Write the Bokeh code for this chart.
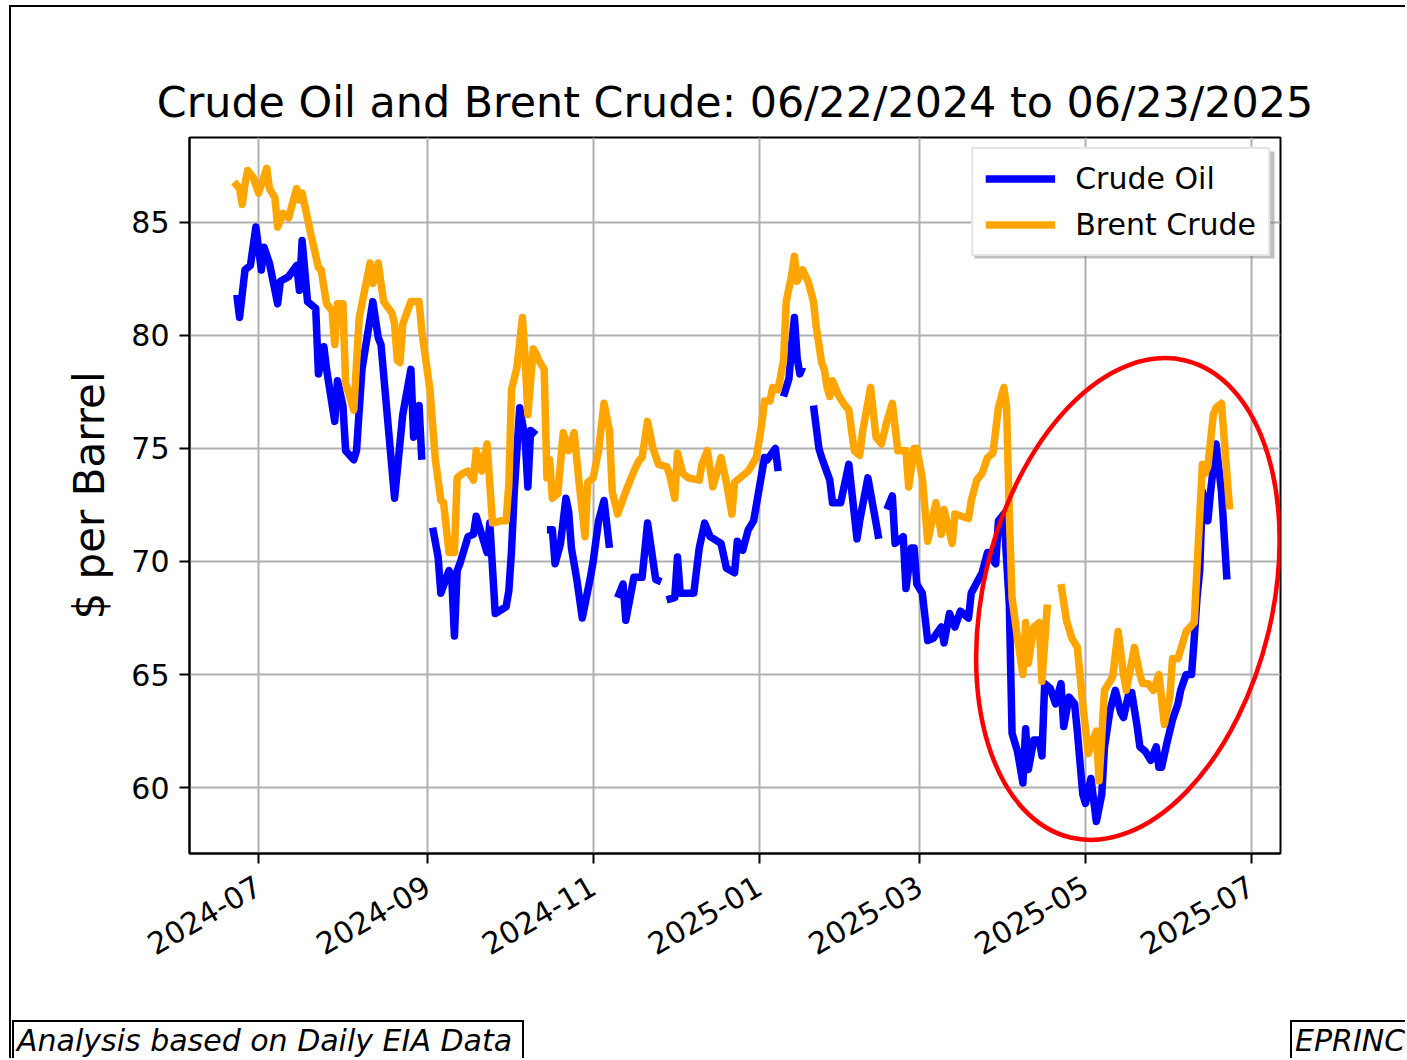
import math
import pandas as pd
from bokeh.plotting import figure
from bokeh.layouts import column
from bokeh.models import FixedTicker, DatetimeTickFormatter, Range1d, Div, BoxAnnotation
from bokeh.embed import file_html
from bokeh.resources import INLINE

NaN = float("nan")

crude_dates = [
    "2024-06-23", "2024-06-24", "2024-06-26", "2024-06-28", "2024-06-30", "2024-07-02", "2024-07-03", "2024-07-05",
    "2024-07-08", "2024-07-09", "2024-07-12", "2024-07-15", "2024-07-16", "2024-07-17", "2024-07-19", "2024-07-22",
    "2024-07-23", "2024-07-25", "2024-07-26", "2024-07-29", "2024-07-30", "2024-08-01", "2024-08-02", "2024-08-05",
    "2024-08-06", "2024-08-08", "2024-08-12", "2024-08-14", "2024-08-15", "2024-08-20", "2024-08-23", "2024-08-26",
    "2024-08-27", "2024-08-29", "2024-08-30", "2024-09-01", "2024-09-03", "2024-09-05", "2024-09-06", "2024-09-09",
    "2024-09-10", "2024-09-11", "2024-09-12", "2024-09-13", "2024-09-16", "2024-09-18", "2024-09-19", "2024-09-23",
    "2024-09-24", "2024-09-26", "2024-09-30", "2024-10-01", "2024-10-02", "2024-10-03", "2024-10-05", "2024-10-07",
    "2024-10-08", "2024-10-09", "2024-10-11", "2024-10-13", "2024-10-15", "2024-10-17", "2024-10-18", "2024-10-20",
    "2024-10-22", "2024-10-23", "2024-10-24", "2024-10-26", "2024-10-28", "2024-10-31", "2024-11-01", "2024-11-03",
    "2024-11-05", "2024-11-07", "2024-11-08", "2024-11-10", "2024-11-12", "2024-11-13", "2024-11-16", "2024-11-19",
    "2024-11-21", "2024-11-24", "2024-11-26", "2024-11-27", "2024-11-28", "2024-12-01", "2024-12-02", "2024-12-03",
    "2024-12-08", "2024-12-10", "2024-12-12", "2024-12-14", "2024-12-18", "2024-12-20", "2024-12-23", "2024-12-24",
    "2024-12-26", "2024-12-28", "2024-12-30", "2025-01-03", "2025-01-04", "2025-01-07", "2025-01-08", "2025-01-09",
    "2025-01-10", "2025-01-12", "2025-01-13", "2025-01-14", "2025-01-15", "2025-01-16", "2025-01-17", "2025-01-19",
    "2025-01-21", "2025-01-23", "2025-01-24", "2025-01-27", "2025-01-28", "2025-01-31", "2025-02-03", "2025-02-06",
    "2025-02-07", "2025-02-10", "2025-02-13", "2025-02-14", "2025-02-16", "2025-02-17", "2025-02-19", "2025-02-20",
    "2025-02-23", "2025-02-24", "2025-02-26", "2025-02-27", "2025-02-28", "2025-03-02", "2025-03-04", "2025-03-06",
    "2025-03-09", "2025-03-10", "2025-03-12", "2025-03-14", "2025-03-16", "2025-03-19", "2025-03-20", "2025-03-24",
    "2025-03-26", "2025-03-29", "2025-03-30", "2025-04-01", "2025-04-03", "2025-04-04", "2025-04-06", "2025-04-08",
    "2025-04-09", "2025-04-10", "2025-04-12", "2025-04-14", "2025-04-15", "2025-04-16", "2025-04-18", "2025-04-20",
    "2025-04-22", "2025-04-23", "2025-04-25", "2025-04-27", "2025-04-28", "2025-04-30", "2025-05-01", "2025-05-03",
    "2025-05-05", "2025-05-07", "2025-05-08", "2025-05-10", "2025-05-12", "2025-05-14", "2025-05-15", "2025-05-17",
    "2025-05-18", "2025-05-20", "2025-05-21", "2025-05-23", "2025-05-25", "2025-05-27", "2025-05-28", "2025-05-29",
    "2025-05-31", "2025-06-02", "2025-06-04", "2025-06-05", "2025-06-07", "2025-06-09", "2025-06-10", "2025-06-11",
    "2025-06-12", "2025-06-13", "2025-06-15", "2025-06-16", "2025-06-18", "2025-06-20", "2025-06-22",
]
crude_values = [
    81.8, 80.8, 82.9, 83.1, 84.8, 82.9, 83.9, 83.2,
    81.4, 82.4, 82.6, 83.1, 82.0, 84.2, 81.5, 81.2,
    78.3, 79.5, 78.5, 76.2, 78.0, 76.9, 74.9, 74.5,
    74.9, 78.5, 81.5, 79.9, 79.6, 72.8, 76.5, 78.5,
    75.5, 76.9, 74.5, NaN, 71.5, 70.2, 68.6, 69.6,
    69.3, 66.7, 69.6, 69.9, 71.1, 71.2, 72.0, 70.4,
    71.7, 67.7, 68.0, 68.7, 70.5, 73.1, 76.8, 75.4,
    73.3, 75.8, 75.6, NaN, 71.4, 71.4, 69.9, 70.8,
    72.8, 72.2, 70.6, 69.2, 67.5, 69.3, 70.0, 71.8,
    72.7, 70.6, NaN, 68.4, 69.0, 67.4, 69.3, 69.3,
    71.7, 69.2, 69.1, NaN, 68.3, 68.4, 70.2, 68.6,
    68.6, 70.6, 71.7, 71.1, 70.8, 69.7, 69.5, 70.9,
    70.5, 71.4, 71.8, 74.6, 74.5, 75.0, 74.0, NaN,
    77.3, 78.1, 79.6, 80.8, 79.0, 78.3, 78.6, NaN,
    76.9, 75.0, 74.6, 73.6, 72.6, 72.6, 74.3, 71.0,
    71.8, 73.7, 71.7, 71.0, NaN, 72.3, 72.9, 70.8,
    71.1, 68.8, 70.6, 70.6, 69.0, 68.6, 66.5, 66.6,
    67.1, 66.4, 67.7, 67.1, 67.8, 67.5, 68.6, 69.5,
    70.4, 69.9, 71.8, 72.1, 68.1, 62.4, 61.6, 60.2,
    62.6, 60.8, 62.1, 62.1, 61.4, 64.6, 64.4, 63.7,
    64.6, 62.7, 64.0, 63.7, 62.5, 59.7, 59.3, 60.4,
    58.5, 59.7, 61.8, 63.4, 64.3, 63.3, 63.1, 64.2,
    64.2, 62.7, 61.8, 61.6, 61.2, 61.8, 60.9, 60.9,
    62.0, 63.0, 63.7, 64.3, 65.0, 65.0, 66.6, 68.4,
    69.6, 73.1, 71.8, 73.1, 75.2, 73.1, 69.2,
]

brent_dates = [
    "2024-06-22", "2024-06-24", "2024-06-25", "2024-06-26", "2024-06-27", "2024-06-29", "2024-07-01", "2024-07-04",
    "2024-07-05", "2024-07-07", "2024-07-08", "2024-07-10", "2024-07-12", "2024-07-15", "2024-07-16", "2024-07-17",
    "2024-07-20", "2024-07-23", "2024-07-24", "2024-07-26", "2024-07-28", "2024-07-29", "2024-07-30", "2024-08-01",
    "2024-08-02", "2024-08-05", "2024-08-07", "2024-08-09", "2024-08-11", "2024-08-12", "2024-08-14", "2024-08-15",
    "2024-08-16", "2024-08-19", "2024-08-20", "2024-08-21", "2024-08-22", "2024-08-23", "2024-08-26", "2024-08-29",
    "2024-08-30", "2024-09-02", "2024-09-04", "2024-09-06", "2024-09-07", "2024-09-09", "2024-09-11", "2024-09-12",
    "2024-09-14", "2024-09-16", "2024-09-18", "2024-09-19", "2024-09-21", "2024-09-23", "2024-09-25", "2024-09-28",
    "2024-09-30", "2024-10-01", "2024-10-02", "2024-10-04", "2024-10-06", "2024-10-07", "2024-10-08", "2024-10-10",
    "2024-10-11", "2024-10-12", "2024-10-14", "2024-10-15", "2024-10-16", "2024-10-17", "2024-10-19", "2024-10-21",
    "2024-10-23", "2024-10-25", "2024-10-27", "2024-10-29", "2024-10-30", "2024-11-01", "2024-11-03", "2024-11-05",
    "2024-11-07", "2024-11-08", "2024-11-10", "2024-11-13", "2024-11-16", "2024-11-18", "2024-11-19", "2024-11-21",
    "2024-11-23", "2024-11-25", "2024-11-28", "2024-11-29", "2024-12-01", "2024-12-02", "2024-12-04", "2024-12-06",
    "2024-12-10", "2024-12-11", "2024-12-13", "2024-12-15", "2024-12-16", "2024-12-18", "2024-12-20", "2024-12-22",
    "2024-12-23", "2024-12-25", "2024-12-28", "2024-12-31", "2025-01-02", "2025-01-03", "2025-01-05", "2025-01-06",
    "2025-01-08", "2025-01-10", "2025-01-11", "2025-01-13", "2025-01-14", "2025-01-15", "2025-01-17", "2025-01-19",
    "2025-01-21", "2025-01-22", "2025-01-24", "2025-01-25", "2025-01-26", "2025-01-27", "2025-01-28", "2025-01-30",
    "2025-02-01", "2025-02-03", "2025-02-05", "2025-02-07", "2025-02-08", "2025-02-11", "2025-02-13", "2025-02-15",
    "2025-02-17", "2025-02-19", "2025-02-21", "2025-02-24", "2025-02-25", "2025-02-27", "2025-02-28", "2025-03-02",
    "2025-03-04", "2025-03-07", "2025-03-09", "2025-03-10", "2025-03-13", "2025-03-14", "2025-03-19", "2025-03-20",
    "2025-03-22", "2025-03-24", "2025-03-26", "2025-03-28", "2025-03-30", "2025-04-01", "2025-04-02", "2025-04-03",
    "2025-04-04", "2025-04-06", "2025-04-08", "2025-04-09", "2025-04-10", "2025-04-12", "2025-04-14", "2025-04-15",
    "2025-04-17", "2025-04-19", "2025-04-22", "2025-04-24", "2025-04-26", "2025-04-28", "2025-04-30", "2025-05-02",
    "2025-05-05", "2025-05-06", "2025-05-08", "2025-05-11", "2025-05-13", "2025-05-15", "2025-05-16", "2025-05-19",
    "2025-05-21", "2025-05-22", "2025-05-24", "2025-05-26", "2025-05-28", "2025-05-30", "2025-06-01", "2025-06-02",
    "2025-06-04", "2025-06-06", "2025-06-07", "2025-06-10", "2025-06-11", "2025-06-13", "2025-06-14", "2025-06-15",
    "2025-06-17", "2025-06-18", "2025-06-20", "2025-06-23",
]
brent_values = [
    86.8, 86.5, 85.8, 86.7, 87.3, 87.0, 86.3, 87.4,
    86.5, 86.1, 84.8, 85.4, 85.2, 86.5, 86.0, 86.3,
    84.6, 83.0, 82.9, 81.4, 81.1, 79.6, 81.4, 81.4,
    77.9, 76.7, 80.8, 82.0, 83.2, 82.3, 83.2, 82.3,
    81.5, 81.0, 80.5, 78.9, 78.8, 80.5, 81.5, 81.5,
    80.2, 77.6, 74.5, 72.7, 72.6, 70.4, 70.4, 73.7,
    73.9, 74.0, 73.6, 74.9, 74.0, 75.2, 71.7, 71.8,
    71.8, 73.4, 77.6, 78.6, 80.8, 79.0, 76.5, 79.4,
    79.2, 78.9, 78.5, 73.7, 74.5, 72.8, 73.0, 75.7,
    74.9, 75.7, 73.3, 71.1, 73.5, 73.7, 74.9, 77.0,
    75.8, 73.1, 72.1, 73.1, 74.0, 74.5, 74.6, 76.2,
    75.0, 74.3, 74.2, 73.9, 72.8, 74.8, 73.9, 73.7,
    73.6, 74.3, 74.9, 73.3, 73.7, 74.6, 73.5, 72.1,
    73.5, 73.7, 74.0, 74.6, 76.1, 77.1, 77.1, 77.7,
    77.6, 78.9, 81.5, 82.7, 83.5, 82.4, 82.9, 82.4,
    81.5, 80.4, 78.8, 78.5, 77.7, 77.3, 78.0, 77.4,
    77.0, 76.7, 74.9, 74.7, 75.7, 77.7, 75.5, 75.2,
    76.2, 77.0, 74.9, 74.9, 73.3, 75.0, 75.0, 73.7,
    70.9, 72.6, 71.2, 72.3, 70.8, 72.1, 71.9, 72.7,
    73.6, 73.9, 74.6, 74.8, 76.8, 77.7, 76.8, 72.1,
    68.4, 66.6, 65.0, 67.3, 65.5, 67.1, 67.3, 64.7,
    68.1, NaN, 69.0, 67.4, 66.6, 66.2, 63.7, 61.5,
    62.5, 60.3, 64.3, 64.9, 66.9, 65.0, 64.3, 66.2,
    65.0, 64.6, 64.6, 64.3, 65.0, 62.8, 64.0, 65.7,
    65.7, 66.5, 66.9, 67.3, 69.7, 74.3, 73.9, 74.2,
    76.5, 76.8, 77.0, 72.3,
]

x_tick_labels = ["2024-07", "2024-09", "2024-11", "2025-01", "2025-03", "2025-05", "2025-07"]
y_ticks = [60, 65, 70, 75, 80, 85]
footer_left = "Analysis based on Daily EIA Data"
footer_right = "EPRINC"

FONT = "DejaVu Sans"

crude_x = pd.to_datetime(crude_dates)
brent_x = pd.to_datetime(brent_dates)

origin = pd.Timestamp("2024-07-01")
x_start = origin - pd.Timedelta(days=25.4)
x_end = origin + pd.Timedelta(days=375.7)

W = 1394
p = figure(
    width=W, height=1011,
    x_axis_type="datetime",
    x_range=Range1d(x_start, x_end),
    y_range=Range1d(57.08, 88.76),
    output_backend="svg", toolbar_location=None,
    min_border_left=178, min_border_right=125, min_border_top=130, min_border_bottom=165,
)
p.background_fill_color = "white"
p.border_fill_color = "white"

p.title.text = "Crude Oil and Brent Crude: 06/22/2024 to 06/23/2025"
p.title.text_font = FONT
p.title.text_font_size = "42.8px"
p.title.text_font_style = "normal"
p.title.align = "center"
p.title.text_color = "black"
p.title.standoff = 22

p.outline_line_color = "black"
p.outline_line_width = 2
p.outline_line_alpha = 1

tick_ms = [pd.Timestamp(t + "-01").value // 10**6 for t in x_tick_labels]
xt = FixedTicker(ticks=tick_ms)
p.xaxis.ticker = xt
p.xgrid.ticker = xt
p.xaxis.formatter = DatetimeTickFormatter(
    milliseconds="%Y-%m", seconds="%Y-%m", minsec="%Y-%m", minutes="%Y-%m", hourmin="%Y-%m",
    hours="%Y-%m", days="%Y-%m", months="%Y-%m", years="%Y-%m")
p.xaxis.major_label_orientation = math.pi / 6
yt = FixedTicker(ticks=y_ticks)
p.yaxis.ticker = yt
p.ygrid.ticker = yt

for ax in (p.xaxis, p.yaxis):
    ax.axis_line_color = "black"
    ax.axis_line_width = 2
    ax.major_tick_out = 10
    ax.major_tick_in = 0
    ax.major_tick_line_width = 2
    ax.major_tick_line_color = "black"
    ax.minor_tick_line_color = None
    ax.major_label_text_font = FONT
    ax.major_label_text_font_size = "30px"
    ax.major_label_text_color = "black"

p.yaxis.major_label_standoff = 10
p.xaxis.major_label_standoff = 20
p.yaxis.axis_label = "$ per Barrel"
p.yaxis.axis_label_text_font = FONT
p.yaxis.axis_label_text_font_size = "42px"
p.yaxis.axis_label_text_font_style = "normal"
p.yaxis.axis_label_text_color = "black"
p.yaxis.axis_label_standoff = 14

p.grid.grid_line_color = "#b0b0b0"
p.grid.grid_line_width = 2

# legend drop shadow (decoration, behind the legend box)
sh_left = (origin + pd.Timedelta(days=263.2)).value / 1e6
sh_right = (origin + pd.Timedelta(days=373.5)).value / 1e6
p.add_layout(BoxAnnotation(left=sh_left, right=sh_right, top=88.14, bottom=83.41,
                           fill_color="#808080", fill_alpha=0.5, line_color=None, level="underlay"))

p.line(crude_x, crude_values, line_color="#0000ff", line_width=7.5, line_join="round", legend_label="Crude Oil")
p.line(brent_x, brent_values, line_color="#ffa500", line_width=7.5, line_join="round", legend_label="Brent Crude")

# highlight ellipse
p.ellipse(x=[pd.Timestamp("2025-05-16 14:00")], y=[68.34], width=289, height=491,
          width_units="screen", height_units="screen", angle=-0.236,
          fill_color=None, line_color="#ff0000", line_width=4.5)

lg = p.legend[0]
lg.location = "top_right"
lg.margin = 10
lg.border_line_color = "#cccccc"
lg.border_line_width = 2
lg.background_fill_color = "white"
lg.background_fill_alpha = 1
lg.label_text_font = FONT
lg.label_text_font_size = "30px"
lg.label_text_color = "black"
lg.glyph_width = 70
lg.glyph_height = 35
lg.label_height = 35
lg.spacing = 11
lg.padding = 12
lg.label_standoff = 20

box_css = ("position:absolute;top:2px;border:2px solid black;padding:1px 10px 10px 3px;"
           "line-height:36px;white-space:nowrap;background:white;")
footer_html = (
    f'<div style="position:relative;width:{W}px;height:40px;overflow:hidden;'
    f"font-family:'DejaVu Sans';font-style:italic;font-size:30px;color:black;\">"
    f'<span style="{box_css}left:1px;">{footer_left}</span>'
    f'<span style="{box_css}left:1279px;">{footer_right}</span>'
    f'</div>'
)
footer = Div(text=footer_html, width=W, height=40, styles={"overflow": "hidden", "margin": "0"})

layout = column(p, footer, spacing=0,
                styles={"margin-left": "9px", "margin-top": "5px",
                        "border-left": "2px solid black", "border-top": "2px solid black"})

open("out.html", "w").write(file_html(layout, INLINE))
